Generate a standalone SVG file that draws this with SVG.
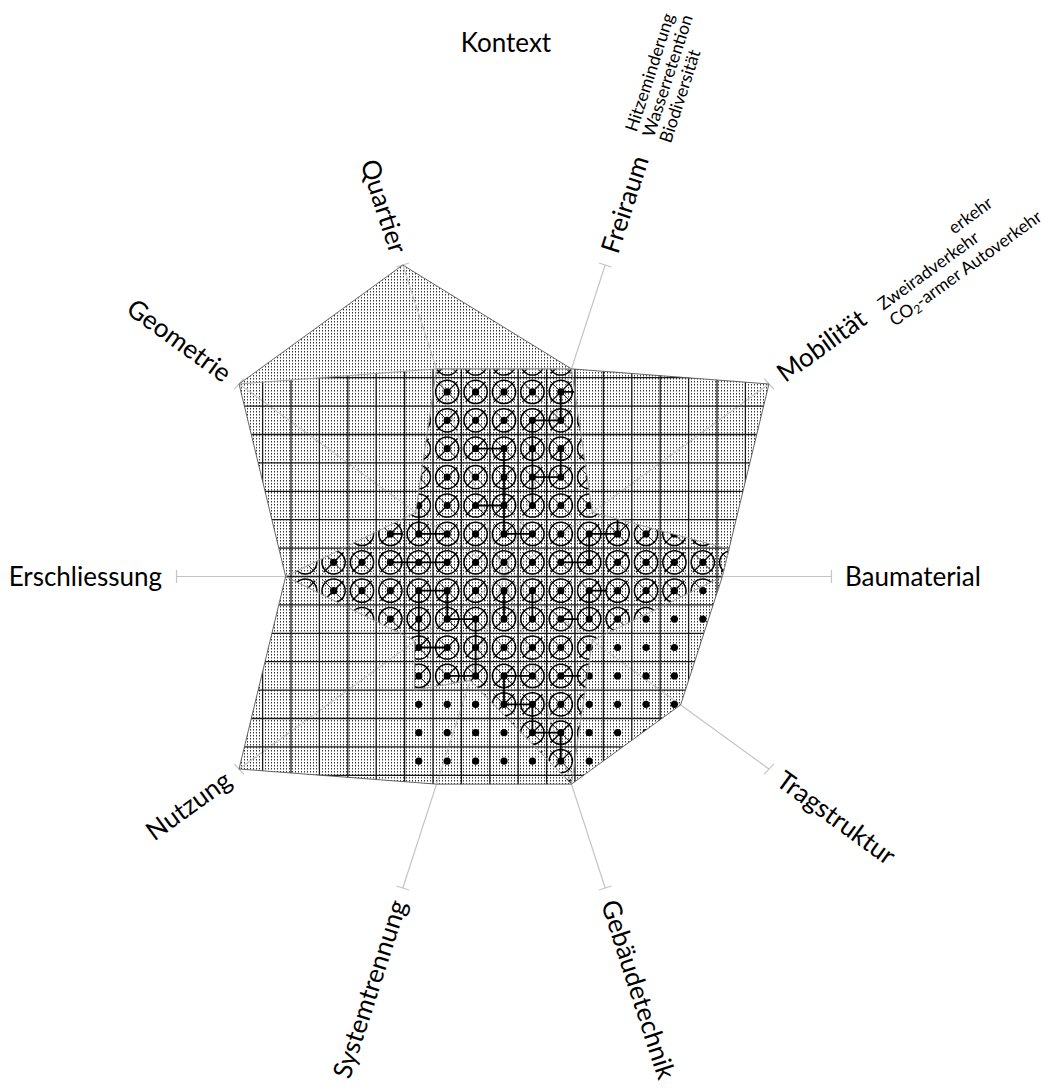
<svg xmlns="http://www.w3.org/2000/svg" width="1051" height="1088" viewBox="0 0 1051 1088">
<style>
.lbl{font-family:Lato,"Liberation Sans",sans-serif;font-size:26px;fill:#000}
.sub{font-family:Lato,"Liberation Sans",sans-serif;font-size:17.5px;fill:#000}
.axis{stroke:#c4c4c4;stroke-width:1.2;fill:none}
.grid{stroke:#1a1a1a;stroke-width:1.3;fill:none}
.net{stroke:#000;stroke-width:1.8;fill:none;stroke-linecap:square}
.edgeA{fill:none;stroke:#555;stroke-width:0.9}
.edgeC{fill:none;stroke:#999;stroke-width:0.9}
.rowsC{fill:none;stroke:none;marker-start:url(#mc);marker-mid:url(#mc);marker-end:url(#mc)}
.rowsD{fill:none;stroke:none;marker-start:url(#md);marker-mid:url(#md);marker-end:url(#md)}
</style>
<defs>
<pattern id="stip" patternUnits="userSpaceOnUse" width="3" height="3">
<rect x="1" y="0" width="1" height="1.5" fill="#333"/>
</pattern>
<marker id="mc" markerUnits="userSpaceOnUse" markerWidth="30" markerHeight="30" viewBox="0 0 30 30" refX="15" refY="15" overflow="visible">
<circle cx="15" cy="15" r="11.6" fill="none" stroke="#000" stroke-width="1.5"/>
<path d="M5,25 L25,5" stroke="#000" stroke-width="1.3" fill="none"/>
<path d="M5,5 L25,25" stroke="#000" stroke-width="0.9" fill="none"/>
</marker>
<marker id="md" markerUnits="userSpaceOnUse" markerWidth="10" markerHeight="10" viewBox="0 0 10 10" refX="5" refY="5" overflow="visible">
<circle cx="5" cy="5" r="3.6" fill="#000"/>
</marker>
<clipPath id="clipB"><polygon points="436.53,368.86 571.47,368.86 768.95,384 722.33,576.5 680.63,704.83 571.47,784.14 436.53,784.14 239.05,768.99 285.67,576.5 239.05,384"/></clipPath>
<clipPath id="clipC"><polygon points="436.53,368.86 571.47,368.86 592.32,512.33 729,549 722.33,576.5 592.32,640.67 571.47,784.14 470.26,680.33 414.5,690 414.5,640.5 285.67,576.5 415.68,512.33"/></clipPath>
<clipPath id="clipD"><polygon points="436.53,368.86 571.47,368.86 592.32,512.33 729,549 722.33,576.5 680.63,704.83 571.47,784.14 436.53,784.14 414.5,782.5 414.5,640.5 285.67,576.5 415.68,512.33"/></clipPath>
<path id="rows" d="M276.8,363.5h28.4h28.4h28.4h28.4h28.4h28.4h28.4h28.4h28.4h28.4h28.4h28.4h28.4h28.4h28.4h28.4
M276.8,391.9h28.4h28.4h28.4h28.4h28.4h28.4h28.4h28.4h28.4h28.4h28.4h28.4h28.4h28.4h28.4h28.4
M276.8,420.3h28.4h28.4h28.4h28.4h28.4h28.4h28.4h28.4h28.4h28.4h28.4h28.4h28.4h28.4h28.4h28.4
M276.8,448.7h28.4h28.4h28.4h28.4h28.4h28.4h28.4h28.4h28.4h28.4h28.4h28.4h28.4h28.4h28.4h28.4
M276.8,477.1h28.4h28.4h28.4h28.4h28.4h28.4h28.4h28.4h28.4h28.4h28.4h28.4h28.4h28.4h28.4h28.4
M276.8,505.5h28.4h28.4h28.4h28.4h28.4h28.4h28.4h28.4h28.4h28.4h28.4h28.4h28.4h28.4h28.4h28.4
M276.8,533.9h28.4h28.4h28.4h28.4h28.4h28.4h28.4h28.4h28.4h28.4h28.4h28.4h28.4h28.4h28.4h28.4
M276.8,562.3h28.4h28.4h28.4h28.4h28.4h28.4h28.4h28.4h28.4h28.4h28.4h28.4h28.4h28.4h28.4h28.4
M276.8,590.7h28.4h28.4h28.4h28.4h28.4h28.4h28.4h28.4h28.4h28.4h28.4h28.4h28.4h28.4h28.4h28.4
M276.8,619.1h28.4h28.4h28.4h28.4h28.4h28.4h28.4h28.4h28.4h28.4h28.4h28.4h28.4h28.4h28.4h28.4
M276.8,647.5h28.4h28.4h28.4h28.4h28.4h28.4h28.4h28.4h28.4h28.4h28.4h28.4h28.4h28.4h28.4h28.4
M276.8,675.9h28.4h28.4h28.4h28.4h28.4h28.4h28.4h28.4h28.4h28.4h28.4h28.4h28.4h28.4h28.4h28.4
M276.8,704.3h28.4h28.4h28.4h28.4h28.4h28.4h28.4h28.4h28.4h28.4h28.4h28.4h28.4h28.4h28.4h28.4
M276.8,732.7h28.4h28.4h28.4h28.4h28.4h28.4h28.4h28.4h28.4h28.4h28.4h28.4h28.4h28.4h28.4h28.4
M276.8,761.1h28.4h28.4h28.4h28.4h28.4h28.4h28.4h28.4h28.4h28.4h28.4h28.4h28.4h28.4h28.4h28.4
M276.8,789.5h28.4h28.4h28.4h28.4h28.4h28.4h28.4h28.4h28.4h28.4h28.4h28.4h28.4h28.4h28.4h28.4"/>
</defs>

<g id="layer-stipple">
<polygon points="402.8,265.03 571.47,368.86 768.95,384 722.33,576.5 680.63,704.83 571.47,784.14 436.53,784.14 239.05,768.99 285.67,576.5 239.05,384" fill="url(#stip)"/>
</g>

<g id="axes">
<path class="axis" d="M504,576.5 L831.5,576.5 M504,576.5 L768.95,769 M504,576.5 L605.2,888 M504,576.5 L402.8,888 M504,576.5 L239.05,769 M504,576.5 L176.5,576.5 M504,576.5 L239.05,384 M504,576.5 L402.8,265 M504,576.5 L605.2,265 M504,576.5 L768.95,384"/>
<path class="axis" d="M831.5,570 V583 M764.1,774.3 L773.8,763.8 M599,890 L611.4,886 M396.6,886 L409,890 M234.2,763.8 L243.9,774.3 M176.5,570 V583 M234.2,389.2 L243.9,378.7 M396.6,267 L409,263 M599,263 L611.4,267 M764.1,378.7 L773.8,389.2"/>
</g>

<g id="layer-grid" clip-path="url(#clipB)">
<path class="grid" d="M234.2,360V790 M262.6,360V790 M291,360V790 M319.4,360V790 M347.8,360V790 M376.2,360V790 M404.6,360V790 M433,360V790 M461.4,360V790 M489.8,360V790 M518.2,360V790 M546.6,360V790 M575,360V790 M603.4,360V790 M631.8,360V790 M660.2,360V790 M688.6,360V790 M717,360V790 M745.4,360V790 M773.8,360V790
M230,349.3H780 M230,377.7H780 M230,406.1H780 M230,434.5H780 M230,462.9H780 M230,491.3H780 M230,519.7H780 M230,548.1H780 M230,576.5H780 M230,604.9H780 M230,633.3H780 M230,661.7H780 M230,690.1H780 M230,718.5H780 M230,746.9H780 M230,775.3H780"/>
</g>

<g id="layer-circles" clip-path="url(#clipC)">
<use href="#rows" class="rowsC"/>
</g>

<g id="layer-dots" clip-path="url(#clipD)">
<use href="#rows" class="rowsD"/>
</g>

<g id="connectors" clip-path="url(#clipC)">
<path class="net" d="M560.8,391.9H575 M560.8,391.9V420.3 M532.4,420.3H560.8 M532.4,420.3V505.5 M504,448.7V533.9 M475.6,448.7H504 M560.8,448.7V477.1 M532.4,477.1H560.8 M475.6,505.5H504 M504,533.9H532.4
M589.2,533.9H617.6 M617.6,518V533.9 M589.2,533.9V562.3 M560.8,562.3H589.2 M589.2,590.7H606 M589.2,590.7V619.1 M532.4,590.7V619.1 M504,590.7V619.1 M560.8,619.1H578
M418.8,505.5V533.9 M418.8,533.9H447.2 M390.6,533.9H402 M390.6,562.3H447.2 M418.8,590.7H447.2 M418.8,590.7V647.5 M418.8,647.5H447.2 M447.2,590.7V619.1 M447.2,619.1H475.6 M475.6,619.1V675.9 M447.2,675.9H475.6
M504,675.9H532.4 M560.8,675.9H580 M504,675.9V704.3 M504,704.3H532.4 M532.4,704.3V732.7 M532.4,732.7H560.8 M560.8,732.7V761.1"/>
</g>

<g id="outlines">
<polygon class="edgeA" points="402.8,265.03 571.47,368.86 768.95,384 722.33,576.5 680.63,704.83 571.47,784.14 436.53,784.14 239.05,768.99 285.67,576.5 239.05,384"/>
<polyline class="edgeC" points="239.05,384 436.53,368.86 571.47,368.86"/>
<polygon class="edgeC" points="436.53,368.86 571.47,368.86 592.32,512.33 729,549 722.33,576.5 592.32,640.67 571.47,784.14 470.26,680.33 414.5,690 414.5,640.5 285.67,576.5 415.68,512.33"/>
</g>

<g id="labels">
<text class="lbl" x="506" y="52" text-anchor="middle">Kontext</text>
<g id="lbl-baumaterial"><text class="lbl" x="845" y="586">Baumaterial</text></g>
<g id="lbl-erschliessung"><text class="lbl" x="162" y="586" text-anchor="end">Erschliessung</text></g>
<g id="lbl-freiraum" transform="translate(504,576.5) rotate(-72)">
<text class="lbl" x="341" y="9">Freiraum</text>
<text class="sub" x="463" y="-11">Hitzeminderung</text>
<text class="sub" x="463" y="7">Wasserretention</text>
<text class="sub" x="463" y="25">Biodiversität</text>
</g>
<g id="lbl-mobilitaet" transform="translate(504,576.5) rotate(-36)">
<text class="lbl" x="341" y="9">Mobilität</text>
<text class="sub" x="565" y="-12">erkehr</text>
<text class="sub" x="463" y="8">Zweiradverkehr</text>
<text class="sub" x="463" y="28">CO<tspan font-size="12" dy="3">2</tspan><tspan dy="-3">-armer Autoverkehr</tspan></text>
</g>
<g id="lbl-tragstruktur" transform="translate(504,576.5) rotate(36)"><text class="lbl" x="341" y="9">Tragstruktur</text></g>
<g id="lbl-gebaeudetechnik" transform="translate(504,576.5) rotate(72)"><text class="lbl" x="341" y="9">Gebäudetechnik</text></g>
<g id="lbl-systemtrennung" transform="translate(504,576.5) rotate(-72)"><text class="lbl" x="-341" y="9" text-anchor="end">Systemtrennung</text></g>
<g id="lbl-nutzung" transform="translate(504,576.5) rotate(-36)"><text class="lbl" x="-341" y="9" text-anchor="end">Nutzung</text></g>
<g id="lbl-geometrie" transform="translate(504,576.5) rotate(36)"><text class="lbl" x="-341" y="9" text-anchor="end">Geometrie</text></g>
<g id="lbl-quartier" transform="translate(504,576.5) rotate(72)"><text class="lbl" x="-341" y="9" text-anchor="end">Quartier</text></g>
</g>
</svg>
